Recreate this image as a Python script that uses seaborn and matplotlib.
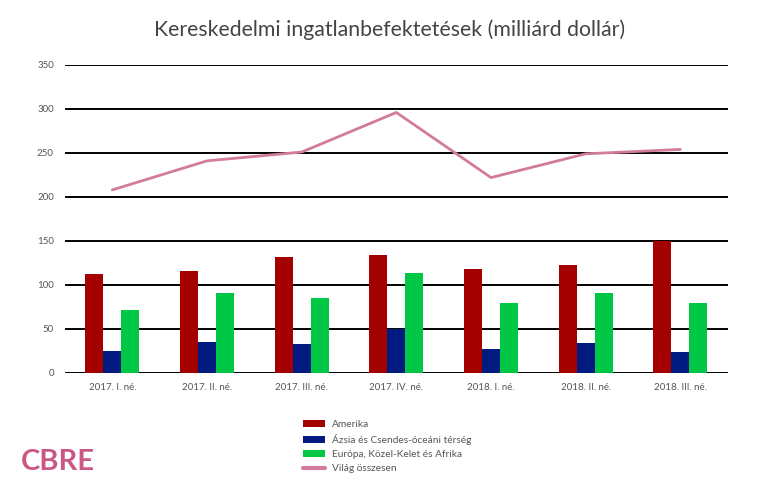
import numpy as np
import pandas as pd
import matplotlib
matplotlib.use("Agg")
import matplotlib.pyplot as plt
import seaborn as sns
from matplotlib.patches import Patch
from matplotlib.lines import Line2D

# data (milliard USD)
quarters = ["2017. I. né.", "2017. II. né.", "2017. III. né.", "2017. IV. né.",
            "2018. I. né.", "2018. II. né.", "2018. III. né."]
amerika = [112, 116, 132, 134, 118, 123, 150]
azsia = [25, 35, 33, 50, 27, 34, 24]
europa = [71, 91, 85, 114, 79, 91, 80]
vilag = [208, 241, 251, 296, 222, 249, 254]

regions = ["Amerika", "Ázsia és Csendes-óceáni térség", "Európa, Közel-Kelet és Afrika"]
colors = ["#a50000", "#001a7f", "#00c846"]
line_color = "#d27b9c"
text_gray = "#555555"

df = pd.DataFrame({
    "quarter": quarters * 3,
    "region": [regions[0]] * 7 + [regions[1]] * 7 + [regions[2]] * 7,
    "value": amerika + azsia + europa,
})

sns.set_theme(style="white")
plt.rcParams["font.family"] = ["Lato", "DejaVu Sans"]

fig = plt.figure(figsize=(7.6, 4.92), dpi=100)
ax = fig.add_axes([0.0855, 0.242, 0.872, 0.626])

sns.barplot(data=df, x="quarter", y="value", hue="region", order=quarters,
            hue_order=regions, palette=colors, width=0.57, saturation=1,
            edgecolor="none", linewidth=0, legend=False, ax=ax)
sns.lineplot(x=np.arange(len(quarters)), y=vilag, color=line_color,
             linewidth=2.0, ax=ax)

ax.set_ylim(0, 350)
ax.set_xlim(-0.5, len(quarters) - 0.5)
ax.set_yticks(range(0, 351, 50))
ax.yaxis.grid(True, color="black", linewidth=1.4)
ax.set_axisbelow(True)
for s in ax.spines.values():
    s.set_visible(False)
ax.set_xlabel("")
ax.set_ylabel("")
ax.tick_params(axis="both", length=0, labelsize=7, labelcolor=text_gray)
ax.tick_params(axis="y", pad=8)
ax.tick_params(axis="x", pad=7)

fig.text(0.512, 0.94, "Kereskedelmi ingatlanbefektetések (milliárd dollár)",
         ha="center", va="center", fontsize=15.3, color="#444444")

# legend below the plot
handles = [Patch(facecolor=c, edgecolor="none") for c in colors]
handles.append(Line2D([0], [0], color=line_color, linewidth=3))
leg = fig.legend(handles, regions + ["Világ összesen"], loc="upper left",
                 frameon=False, fontsize=7.3, labelcolor=text_gray,
                 handlelength=2.2, handleheight=0.6, labelspacing=0.5,
                 handletextpad=0.7, borderaxespad=0)
leg.set_bbox_to_anchor((0.393, 1 - 416 / 492), transform=fig.transFigure)

fig.text(0.027, 0.06, "CBRE", ha="left", va="center", fontsize=21,
         fontweight="bold", color="#c95884")

fig.savefig("out.png", dpi=100)
